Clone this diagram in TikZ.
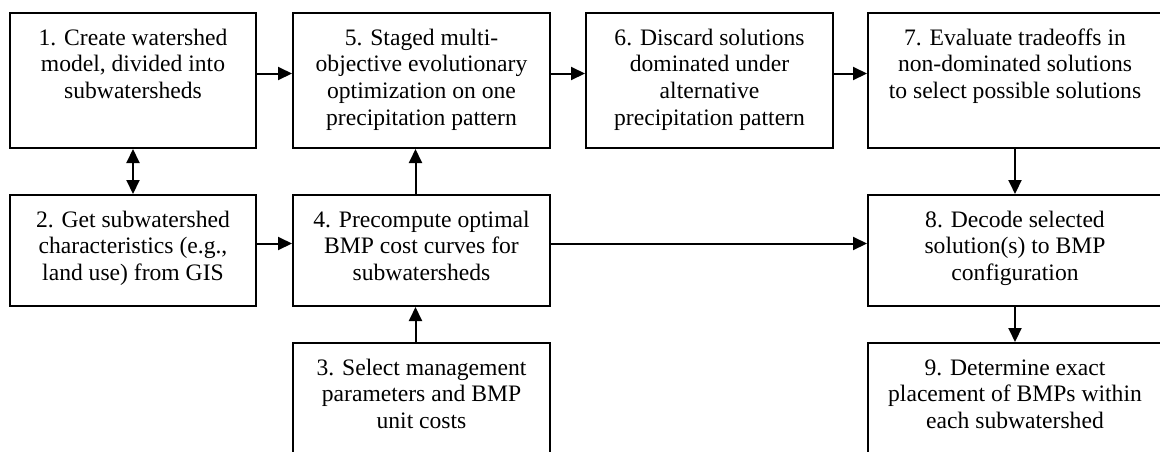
\documentclass[tikz,border=0pt]{standalone}
\usepackage{fontspec}
\setmainfont{Liberation Serif}
\usetikzlibrary{arrows.meta}

\newcommand{\boxtext}[3]{\parbox[c][#2][t]{#1}{\centering\rule{0pt}{16pt}#3}}

\begin{document}
\begin{tikzpicture}[x=0.5pt, y=-0.5pt,
  box/.style={draw, line width=1pt, anchor=north west, inner sep=0pt, font=\fontsize{11.8}{13.4}\selectfont},
  arr/.style={line width=1pt, -{Triangle[length=7pt,width=6.5pt]}},
  dblarr/.style={line width=1pt, {Triangle[length=7pt,width=6.5pt]}-{Triangle[length=7pt,width=6.5pt]}}]

\useasboundingbox (0,0) rectangle (1160,451);
\fill[white] (0,0) rectangle (1160,451);
\clip (0,0) rectangle (1160,451);

\node[box] (b1) at (9,12) {\boxtext{123pt}{67.5pt}{1. Create watershed\\ model, divided into\\ subwatersheds}};
\node[box] (b5) at (292,12) {\boxtext{128.5pt}{67.5pt}{5. Staged multi-\\ objective evolutionary\\ optimization on one\\ precipitation pattern}};
\node[box] (b6) at (585,12) {\boxtext{123.5pt}{67.5pt}{6. Discard solutions\\ dominated under\\ alternative\\ precipitation pattern}};
\node[box] (b7) at (867,12) {\boxtext{147pt}{67.5pt}{7. Evaluate tradeoffs in\\ non-dominated solutions\\ to select possible solutions}};

\node[box] (b2) at (9,194) {\boxtext{123pt}{55.5pt}{2. Get subwatershed\\ characteristics (e.g.,\\ land use) from GIS}};
\node[box] (b4) at (292,194) {\boxtext{128.5pt}{55.5pt}{4. Precompute optimal\\ BMP cost curves for\\ subwatersheds}};
\node[box] (b8) at (867,194) {\boxtext{147pt}{55.5pt}{8. Decode selected\\ solution(s) to BMP\\ configuration}};

\node[box] (b3) at (292,342) {\boxtext{128.5pt}{65pt}{3. Select management\\ parameters and BMP\\ unit costs}};
\node[box] (b9) at (867,342) {\boxtext{147pt}{65pt}{9. Determine exact\\ placement of BMPs within\\ each subwatershed}};

% top row
\draw[arr] ([yshift=3.5pt]b1.east) -- ([yshift=3.5pt]b5.west);
\draw[arr] ([yshift=3.5pt]b5.east) -- ([yshift=3.5pt]b6.west);
\draw[arr] ([yshift=3.5pt]b6.east) -- ([yshift=3.5pt]b7.west);

% middle row
\draw[arr] ([yshift=3.5pt]b2.east) -- ([yshift=3.5pt]b4.west);
\draw[arr] ([yshift=3.5pt]b4.east) -- ([yshift=3.5pt]b8.west);

% vertical links
\draw[dblarr] (b1.south) -- (b2.north);
\draw[arr] ([xshift=-3pt]b4.north) -- ([xshift=-3pt]b5.south);
\draw[arr] ([xshift=-3pt]b3.north) -- ([xshift=-3pt]b4.south);
\draw[arr] (b7.south) -- (b8.north);
\draw[arr] (b8.south) -- (b9.north);
\end{tikzpicture}
\end{document}
